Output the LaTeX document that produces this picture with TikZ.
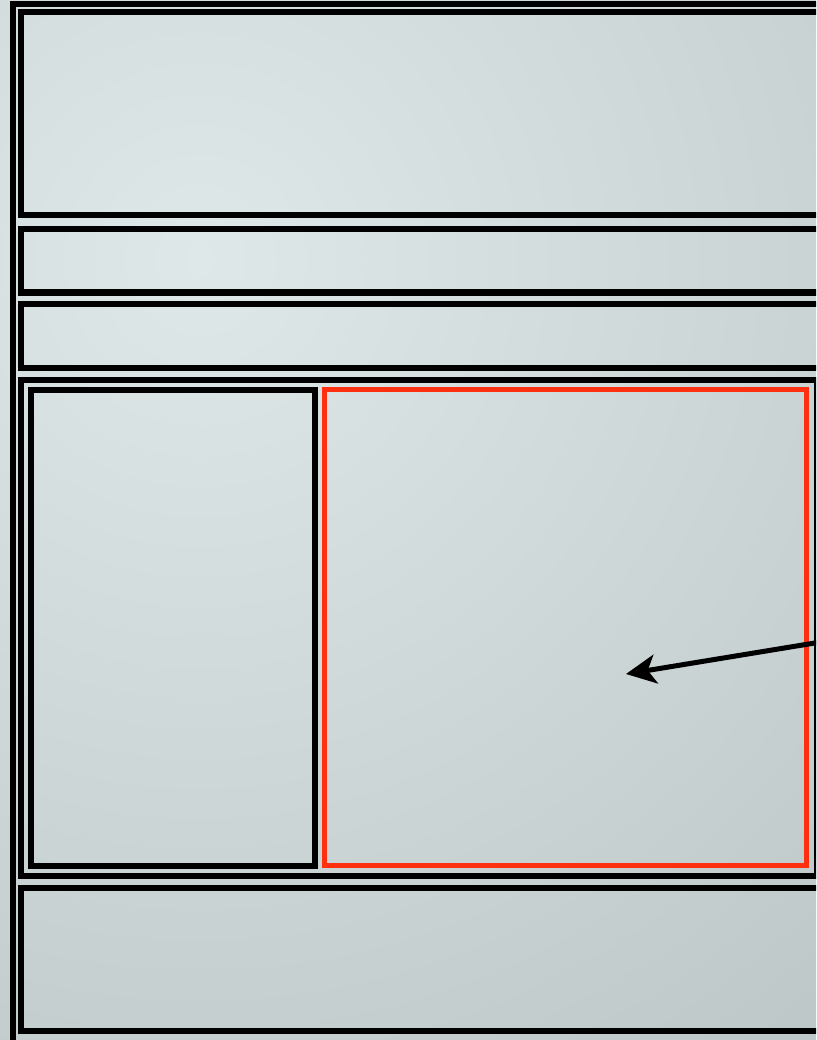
\documentclass[tikz,border=0pt]{standalone}
\usetikzlibrary{arrows.meta}
\definecolor{bglight}{RGB}{222,232,233}
\definecolor{bgdark}{RGB}{174,184,184}
\definecolor{redline}{RGB}{255,48,16}
\tikzset{
  box/.style={draw=black, line width=6pt, rectangle, inner sep=0pt, outer sep=0pt, anchor=north west},
  redbox/.style={box, draw=redline, line width=5.5pt},
  pointer/.style={line width=5pt, -{Stealth[length=30pt,width=29pt,inset=8pt]}}
}
\begin{document}
\begin{tikzpicture}[x=1pt,y=-1pt]
\useasboundingbox (0,0) rectangle (816,1040);
\clip (0,0) rectangle (816,1040);
\shade[inner color=bglight, outer color=bgdark] (200,260) circle (1450);
\node[box, minimum width=1000pt, minimum height=1200pt] (frame) at (12.5,4) {};
\node[box, minimum width=900pt, minimum height=203pt] (header) at (20.5,12.5) {};
\node[box, minimum width=900pt, minimum height=63pt] (bar1) at (20.5,229.5) {};
\node[box, minimum width=900pt, minimum height=64pt] (bar2) at (20.5,303.5) {};
\node[box, minimum width=796pt, minimum height=496.5pt] (main) at (20.5,379.5) {};
\node[box, minimum width=284pt, minimum height=476pt] (side) at (30.5,389.5) {};
\node[redbox, minimum width=482pt, minimum height=476pt] (content) at (324.5,389.5) {};
\node[box, minimum width=900pt, minimum height=143pt] (footer) at (20.5,887.5) {};
\coordinate (src) at (900,629);
\coordinate (tip) at (626,674);
\draw[pointer] (src) -- (tip);
\end{tikzpicture}
\end{document}
